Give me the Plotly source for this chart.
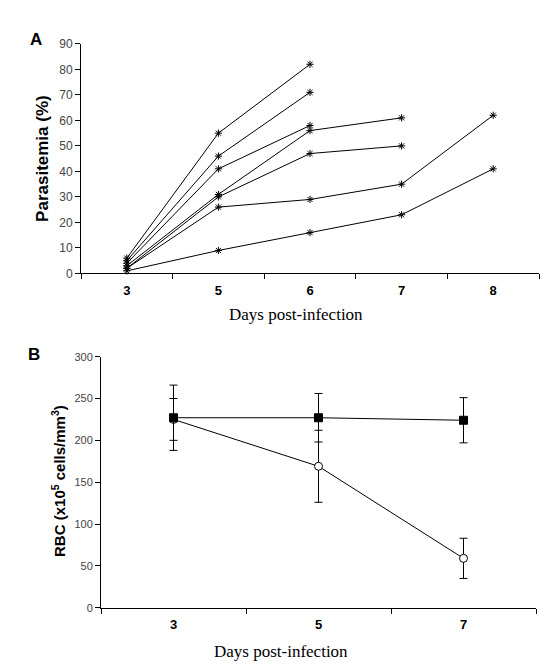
import plotly.graph_objects as go

# ---------------- Data ----------------
# Panel A: parasitemia (%) of individual mice by day post-infection
days_a = ["3", "5", "6", "7", "8"]
mouse_1 = [6, 55, 82]
mouse_2 = [5, 46, 71]
mouse_3 = [4, 41, 58]
mouse_4 = [3, 31, 56, 61]
mouse_5 = [2, 30, 47, 50]
mouse_6 = [2, 26, 29, 35, 62]
mouse_7 = [1, 9, 16, 23, 41]
mice = [mouse_1, mouse_2, mouse_3, mouse_4, mouse_5, mouse_6, mouse_7]

# Panel B: RBC counts (x10^5 cells/mm^3)
days_b = ["3", "5", "7"]
control_mean = [227, 227, 224]
control_sd = [39, 29, 27]
infected_mean = [225, 169, 59]
infected_sd = [25, 43, 24]

# ---------------- Figure ----------------
W, H = 551, 664
fig = go.Figure()

def px_x(p):
    return p / W

def px_y(p):
    return 1 - p / H

for m in mice:
    fig.add_trace(go.Scatter(
        x=days_a[:len(m)], y=m, xaxis="x", yaxis="y",
        mode="lines+markers",
        line=dict(color="black", width=1),
        marker=dict(symbol="asterisk-open", size=6,
                    line=dict(color="black", width=1), color="black"),
        showlegend=False, cliponaxis=False,
    ))

fig.add_trace(go.Scatter(
    x=days_b, y=infected_mean, xaxis="x2", yaxis="y2",
    mode="lines+markers",
    line=dict(color="black", width=1),
    marker=dict(symbol="circle", size=8, color="white",
                line=dict(color="black", width=1)),
    error_y=dict(type="data", array=infected_sd, visible=True,
                 color="black", thickness=1, width=4),
    showlegend=False, cliponaxis=False,
))
fig.add_trace(go.Scatter(
    x=days_b, y=control_mean, xaxis="x2", yaxis="y2",
    mode="lines+markers",
    line=dict(color="black", width=1),
    marker=dict(symbol="square", size=8, color="black",
                line=dict(color="black", width=1)),
    error_y=dict(type="data", array=control_sd, visible=True,
                 color="black", thickness=1, width=4),
    showlegend=False, cliponaxis=False,
))

tickfont_y = dict(family="Liberation Sans, Arial", size=12, color="#444444")
tickfont_x = dict(family="Liberation Sans, Arial", size=13, color="black", weight="bold")

common_x = dict(type="category", tickson="boundaries", ticks="outside", ticklen=5,
                tickcolor="black", showline=True, linecolor="black", linewidth=1,
                showgrid=False, zeroline=False, tickfont=tickfont_x,
                ticklabelstandoff=5)
common_y = dict(ticks="outside", ticklen=5, tickcolor="black", showline=True,
                linecolor="black", linewidth=1, showgrid=False, zeroline=False,
                tickfont=tickfont_y)

fig.update_layout(
    width=W, height=H,
    margin=dict(l=0, r=0, t=0, b=0),
    paper_bgcolor="white", plot_bgcolor="white",
    xaxis=dict(domain=[px_x(73), px_x(531)], anchor="y",
               categoryorder="array", categoryarray=days_a,
               range=[-0.5, 4.5], **common_x),
    yaxis=dict(domain=[px_y(264), px_y(29.5)], anchor="x",
               range=[0, 90], dtick=10, **common_y),
    xaxis2=dict(domain=[px_x(93), px_x(528)], anchor="y2",
                categoryorder="array", categoryarray=days_b,
                range=[-0.5, 2.5], **common_x),
    yaxis2=dict(domain=[px_y(605.5), px_y(349)], anchor="x2",
                range=[0, 300], dtick=50, **common_y),
)
fig.update_layout(yaxis2_tickfont=dict(family="Liberation Sans, Arial", size=11, color="#444444"))

annotations = [
    dict(text="A", x=px_x(28), y=px_y(25), font=dict(family="Liberation Sans, Arial", size=17, color="black", weight="bold")),
    dict(text="B", x=px_x(26), y=px_y(347), font=dict(family="Liberation Sans, Arial", size=17, color="black", weight="bold")),
    dict(text="Parasitemia (%)", x=px_x(35), y=px_y(147), textangle=-90,
         font=dict(family="Liberation Sans, Arial", size=17, color="black", weight="bold")),
    dict(text="RBC (x10<sup>5</sup> cells/mm<sup>3</sup>)", x=px_x(51), y=px_y(476), textangle=-90,
         font=dict(family="Liberation Sans, Arial", size=15, color="black", weight="bold")),
    dict(text="Days post-infection", x=px_x(288), y=px_y(306),
         font=dict(family="Liberation Serif, Times New Roman", size=17, color="black")),
    dict(text="Days post-infection", x=px_x(273), y=px_y(650),
         font=dict(family="Liberation Serif, Times New Roman", size=17, color="black")),
]
for a in annotations:
    a.update(xref="paper", yref="paper", showarrow=False, xanchor="center", yanchor="middle")
fig.update_layout(annotations=annotations)

fig.write_html("out.html")
